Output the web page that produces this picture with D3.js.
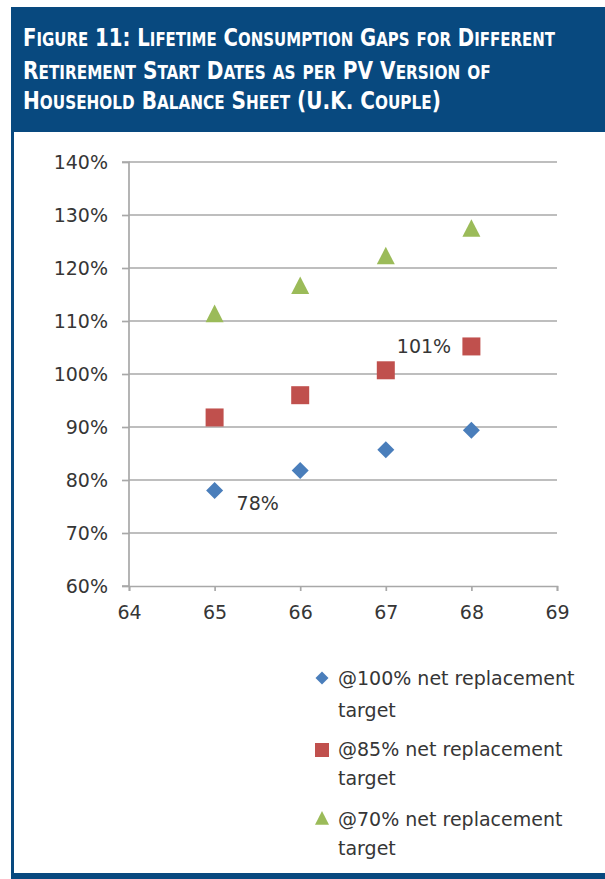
<!DOCTYPE html>
<html>
<head>
<meta charset="utf-8">
<script src="https://cdn.jsdelivr.net/npm/d3@7"></script>
<style>
  body { margin: 0; background: #fff; }
  svg { display: block; }
</style>
</head>
<body>
<svg id="chart" width="605" height="879"></svg>
<script>
// ---- data ----
const retirementAges = [65, 66, 67, 68];
const gap100 = [78, 81.8, 85.7, 89.4];      // @100% net replacement target
const gap85  = [91.8, 96.0, 100.7, 105.2];  // @85% net replacement target
const gap70  = [111.4, 116.7, 122.3, 127.5]; // @70% net replacement target
const xTickValues = [64, 65, 66, 67, 68, 69];
const yTickValues = [60, 70, 80, 90, 100, 110, 120, 130, 140];
const seriesNames = ["@100% net replacement", "@85% net replacement", "@70% net replacement"];
const titleLines = [
  "Figure 11: Lifetime Consumption Gaps for Different",
  "Retirement Start Dates as per PV Version of",
  "Household Balance Sheet (U.K. Couple)"
];
// value labels shown on the chart: [series index, point index]
const valueLabels = [[0, 0], [1, 2]];

const NAVY = "#08497f";
const colors = ["#4a7ebb", "#c0504d", "#9bbb59"];
const shapes = ["diamond", "square", "triangle"];
const seriesValues = [gap100, gap85, gap70];

const svg = d3.select("#chart");

// ---- frame ----
svg.append("rect").attr("x", 11).attr("y", 7).attr("width", 594).attr("height", 125).attr("fill", NAVY);
svg.append("rect").attr("x", 11).attr("y", 132).attr("width", 3).attr("height", 747).attr("fill", NAVY);
svg.append("rect").attr("x", 11).attr("y", 873).attr("width", 594).attr("height", 6).attr("fill", NAVY);

// ---- title in small caps, narrowed horizontally to fit its line width ----
const titleBaselines = [46, 79, 109];
const titleWidths = [532, 468, 418];
titleLines.forEach((line, i) => {
  const t = svg.append("text")
    .attr("fill", "#fff")
    .attr("font-family", "'DejaVu Sans', sans-serif")
    .attr("font-stretch", "condensed")
    .attr("font-weight", "bold");
  // group consecutive characters into runs of large / small capitals
  const runs = [];
  for (const ch of line) {
    const small = ch !== ch.toUpperCase();
    const last = runs[runs.length - 1];
    if (last && last.small === small) last.text += ch.toUpperCase();
    else runs.push({ small, text: ch.toUpperCase() });
  }
  runs.forEach(r => {
    t.append("tspan").attr("font-size", r.small ? 19 : 25).text(r.text);
  });
  const natural = t.node().getComputedTextLength();
  const k = titleWidths[i] / natural;
  t.attr("transform", `translate(23,${titleBaselines[i]}) scale(${k},1)`);
});

// ---- scales ----
const x = d3.scaleLinear().domain([64, 69]).range([129, 557]);
const y = d3.scaleLinear().domain([60, 140]).range([586, 162]);

const GRID = "#a8a8a8";
const TEXT = "#363636";
const FONT = "'DejaVu Sans', sans-serif";

// gridlines
svg.append("g")
  .selectAll("line")
  .data(yTickValues.filter(v => v !== 60))
  .join("line")
  .attr("x1", x(64)).attr("x2", x(69))
  .attr("y1", d => y(d)).attr("y2", d => y(d))
  .attr("stroke", GRID).attr("stroke-width", 1.7);

// y axis
const yAxis = svg.append("g")
  .attr("transform", `translate(${x(64)},0)`)
  .call(d3.axisLeft(y).tickValues(yTickValues).tickFormat(d => d + "%").tickSize(7).tickPadding(14));
// x axis
const xAxis = svg.append("g")
  .attr("transform", `translate(0,${y(60)})`)
  .call(d3.axisBottom(x).tickValues(xTickValues).tickFormat(d3.format("d")).tickSize(5).tickPadding(15));

[yAxis, xAxis].forEach(g => {
  g.select(".domain").attr("stroke", GRID).attr("stroke-width", 1.7);
  g.selectAll(".tick line").attr("stroke", GRID).attr("stroke-width", 1.7);
  g.selectAll(".tick text").attr("fill", TEXT).attr("font-family", FONT).attr("font-size", 19);
});
yAxis.select(".domain").attr("d", `M-7,${y(60)}H0V${y(140)}H-7`);
yAxis.selectAll(".tick text").attr("dy", "0.36em");

// ---- markers ----
function markerPath(shape, size) {
  const h = size / 2;
  if (shape === "diamond") return `M0,${-h}L${h},0L0,${h}L${-h},0Z`;
  if (shape === "square") return `M${-h},${-h}H${h}V${h}H${-h}Z`;
  return `M0,${-h}L${h},${h * 0.95}H${-h}Z`;
}
const markerSizes = [17, 18, 18];

seriesValues.forEach((vals, s) => {
  svg.append("g")
    .selectAll("path")
    .data(vals)
    .join("path")
    .attr("transform", (d, i) => `translate(${x(retirementAges[i])},${y(d)})`)
    .attr("d", markerPath(shapes[s], markerSizes[s]))
    .attr("fill", colors[s]);
});

// value labels
const labelOffsets = [[22, 19], [11, -17]];
valueLabels.forEach(([s, i], k) => {
  const v = seriesValues[s][i];
  svg.append("text")
    .attr("x", x(retirementAges[i]) + labelOffsets[k][0])
    .attr("y", y(v) + labelOffsets[k][1])
    .attr("fill", TEXT).attr("font-family", FONT).attr("font-size", 19)
    .text(Math.round(v) + "%");
});

// ---- legend ----
const legendMarkerY = [678, 750, 818];
const legendBaselines = [[685, 717], [756, 785], [826, 855]];
const legendMarkerSizes = [13, 14, 14];
seriesNames.forEach((name, s) => {
  svg.append("path")
    .attr("transform", `translate(322,${legendMarkerY[s]})`)
    .attr("d", markerPath(shapes[s], legendMarkerSizes[s]))
    .attr("fill", colors[s]);
  ["", "target"].forEach((_, j) => {
    svg.append("text")
      .attr("x", 338).attr("y", legendBaselines[s][j])
      .attr("fill", TEXT).attr("font-family", FONT).attr("font-size", 19)
      .text(j === 0 ? name : "target");
  });
});
</script>
</body>
</html>
